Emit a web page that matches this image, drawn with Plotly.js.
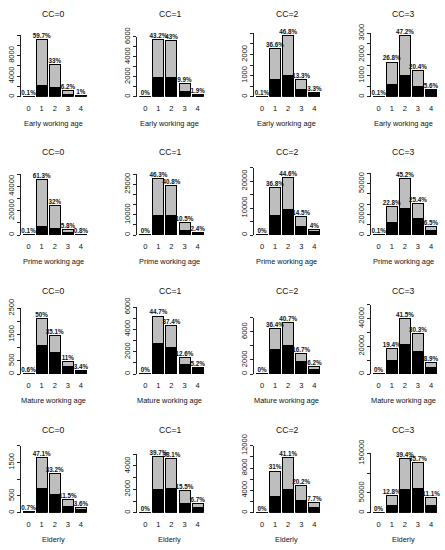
<!DOCTYPE html>
<html>
<head>
<meta charset="utf-8">
<script src="https://cdn.plot.ly/plotly-3.0.1.min.js"></script>
<style>
  html, body { margin: 0; padding: 0; background: #fff; }
  #chart { width: 445px; height: 550px; }
</style>
</head>
<body>
<div id="chart"></div>
<script>
// categories on the x axis of every panel
var cats = [0, 1, 2, 3, 4];
var ccNames = ['CC=0', 'CC=1', 'CC=2', 'CC=3'];
var ageGroups = ['Early working age', 'Prime working age', 'Mature working age', 'Elderly'];

// bar totals (grey + black), black part, and percentage labels; one inner array per CC
var earlyTotal = [[18, 11160, 6170, 1200, 200], [3, 5740, 5600, 1320, 250], [6, 2260, 2890, 821, 204], [6, 1640, 2890, 1250, 343]];
var earlyBlack = [[15, 2270, 1750, 470, 170], [3, 1900, 1900, 570, 230], [5, 825, 1000, 350, 130], [5, 590, 980, 475, 270]];
var earlyPct = [['0.1%', '59.7%', '33%', '6.2%', '1%'], ['0%', '43.2%', '43%', '9.9%', '1.9%'], ['0.1%', '36.6%', '46.8%', '13.3%', '3.3%'], ['0.1%', '26.8%', '47.2%', '20.4%', '5.6%']];

var primeTotal = [[75, 45900, 23970, 4340, 600], [20, 27800, 24500, 6300, 1440], [15, 17500, 21200, 6900, 1900], [122, 27900, 55200, 31000, 7940]];
var primeBlack = [[70, 6870, 4950, 2200, 500], [15, 9500, 9400, 2300, 1300], [10, 7100, 9400, 3100, 1250], [100, 12000, 26000, 15600, 3900]];
var primePct = [['0.1%', '61.3%', '32%', '5.8%', '0.8%'], ['0%', '46.3%', '40.8%', '10.5%', '2.4%'], ['0%', '36.8%', '44.6%', '14.5%', '4%'], ['0.1%', '22.8%', '45.2%', '25.4%', '6.5%']];

var matureTotal = [[25, 2094, 1470, 460, 142], [4, 5190, 4340, 1460, 600], [5, 6490, 7250, 2970, 1100], [30, 18700, 40000, 29200, 8590]];
var matureBlack = [[22, 1080, 812, 280, 120], [3, 2690, 2390, 870, 450], [4, 3460, 3980, 1750, 660], [25, 9600, 21300, 16300, 4800]];
var maturePct = [['0.6%', '50%', '35.1%', '11%', '3.4%'], ['0%', '44.7%', '37.4%', '12.6%', '5.2%'], ['0%', '36.4%', '40.7%', '16.7%', '6.2%'], ['0%', '19.4%', '41.5%', '30.3%', '8.9%']];

var elderlyTotal = [[25, 1640, 1170, 400, 160], [4, 4810, 4620, 1880, 810], [8, 7460, 9900, 4870, 1860], [50, 44200, 136000, 126000, 38300]];
var elderlyBlack = [[22, 710, 530, 180, 110], [3, 1970, 2030, 780, 430], [6, 2930, 4180, 2150, 955], [40, 18300, 58300, 60800, 18300]];
var elderlyPct = [['0.7%', '47.1%', '33.2%', '11.5%', '3.6%'], ['0%', '39.7%', '38.1%', '15.5%', '6.7%'], ['0%', '31%', '41.1%', '20.2%', '7.7%'], ['0%', '12.8%', '39.4%', '35.7%', '11.1%']];

// y axis ticks: last tick, tick step, labelled ticks
var yTop = [[12000, 6000, 3000, 3000], [50000, 30000, 25000, 60000], [2500, 6000, 8000, 50000], [2000, 5000, 12000, 150000]];
var yStep = [[2000, 1000, 500, 500], [10000, 5000, 5000, 10000], [500, 1000, 2000, 10000], [500, 1000, 2000, 50000]];
var yShown = [
  [[0, 4000, 8000], [0, 2000, 4000, 6000], [0, 1000, 2000], [0, 1000, 2000, 3000]],
  [[0, 20000, 40000], [0, 10000, 25000], [0, 10000, 20000], [0, 20000, 50000]],
  [[0, 500, 1500, 2500], [0, 2000, 4000, 6000], [0, 2000, 6000], [0, 20000, 40000]],
  [[0, 500, 1500], [0, 2000, 4000], [0, 4000, 8000, 12000], [0, 50000, 150000]]
];

var rows = [
  { total: earlyTotal, black: earlyBlack, pct: earlyPct },
  { total: primeTotal, black: primeBlack, pct: primePct },
  { total: matureTotal, black: matureBlack, pct: maturePct },
  { total: elderlyTotal, black: elderlyBlack, pct: elderlyPct }
];

// page geometry in pixels
var W = 445, H = 550;
var colLeft = 20.7, colStep = 116.7, plotW = 68.1;
var baseY = [96.7, 235, 374, 512.7];
var topPx = [[35, 36.7, 33.3, 33.3], [174.3, 174.3, 167.7, 173.3], [308.3, 307, 317.7, 304.7], [445.7, 454.3, 445.7, 453.3]];

var FONT = 'Liberation Sans, Arial, sans-serif';
var data = [];
var layout = {
  width: W, height: H,
  margin: { l: 0, r: 0, t: 0, b: 0 },
  paper_bgcolor: '#fff', plot_bgcolor: '#fff',
  barmode: 'stack', bargap: 0.16,
  showlegend: false,
  font: { family: FONT, color: '#111' },
  annotations: []
};

function px2x(p) { return p / W; }
function px2y(p) { return 1 - p / H; }

for (var r = 0; r < 4; r++) {
  for (var c = 0; c < 4; c++) {
    var n = r * 4 + c + 1;
    var xa = n === 1 ? 'x' : 'x' + n;
    var ya = n === 1 ? 'y' : 'y' + n;
    var tot = rows[r].total[c];
    var blk = rows[r].black[c];
    var grey = tot.map(function (t, i) { return t - blk[i]; });

    data.push({
      type: 'bar', x: cats, y: blk, xaxis: xa, yaxis: ya,
      marker: { color: '#000', line: { color: '#000', width: 1 } },
      hoverinfo: 'skip'
    });
    data.push({
      type: 'bar', x: cats, y: grey, xaxis: xa, yaxis: ya,
      marker: { color: '#bebebe', line: { color: '#000', width: 1 } },
      hoverinfo: 'skip'
    });
    data.push({
      type: 'scatter', mode: 'text', x: cats, y: tot, xaxis: xa, yaxis: ya,
      text: rows[r].pct[c], textposition: 'top center',
      textfont: { family: FONT, size: 6.3, color: '#111', weight: 'bold' },
      cliponaxis: false, hoverinfo: 'skip'
    });

    var left = colLeft + c * colStep;
    var tv = [], tt = [];
    for (var v = 0; v <= yTop[r][c]; v += yStep[r][c]) {
      tv.push(v);
      tt.push(yShown[r][c].indexOf(v) >= 0 ? String(v) : '');
    }

    layout[n === 1 ? 'xaxis' : 'xaxis' + n] = {
      domain: [px2x(left), px2x(left + plotW)],
      anchor: ya, range: [-0.6, 4.6],
      showline: false, showgrid: false, zeroline: false,
      tickmode: 'array', tickvals: cats, ticktext: cats.map(String),
      ticks: 'outside', ticklen: 4, tickcolor: 'rgba(0,0,0,0)',
      tickfont: { family: FONT, size: 7.5, color: '#111' },
      fixedrange: true
    };
    layout[n === 1 ? 'yaxis' : 'yaxis' + n] = {
      domain: [px2y(baseY[r]), px2y(topPx[r][c])],
      anchor: xa, range: [0, yTop[r][c]],
      showline: true, linecolor: '#222', linewidth: 1,
      showgrid: false, zeroline: false,
      tickmode: 'array', tickvals: tv, ticktext: tt,
      ticks: 'outside', ticklen: 3, tickcolor: '#222', tickwidth: 1,
      tickangle: -90,
      tickfont: { family: FONT, size: 7.5, color: '#111' },
      fixedrange: true
    };

    var mid = px2x(left + plotW / 2 - 1.5);
    layout.annotations.push({
      text: ccNames[c], xref: 'paper', yref: 'paper',
      x: mid, y: px2y(baseY[r] - 82.7), xanchor: 'center', yanchor: 'middle',
      showarrow: false, font: { family: FONT, size: 8.6, color: '#111' }
    });
    layout.annotations.push({
      text: ageGroups[r], xref: 'paper', yref: 'paper',
      x: mid, y: px2y(baseY[r] + 26.5), xanchor: 'center', yanchor: 'middle',
      showarrow: false, font: { family: FONT, size: 7.4, color: '#111' }
    });
  }
}

Plotly.newPlot('chart', data, layout, { staticPlot: true, displayModeBar: false });
</script>
</body>
</html>
